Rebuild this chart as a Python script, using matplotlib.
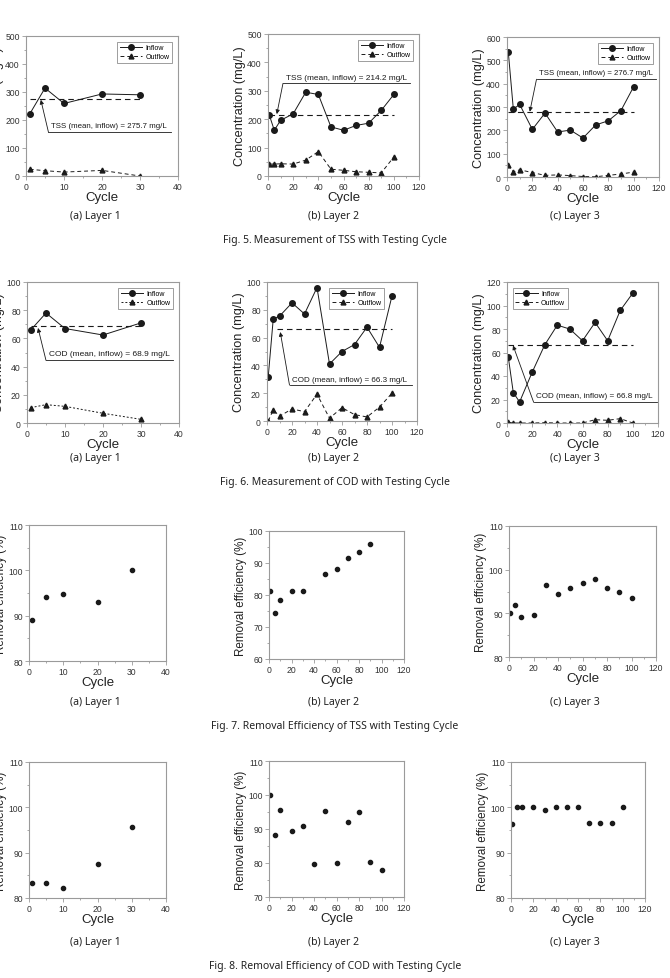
import matplotlib.pyplot as plt
from matplotlib.ticker import MultipleLocator

# ---- data ----
cyc_l1 = [1, 5, 10, 20, 30]
cyc_l2 = [1, 5, 10, 20, 30, 40, 50, 60, 70, 80, 90, 100]
cyc_l3 = [1, 5, 10, 20, 30, 40, 50, 60, 70, 80, 90, 100]

tss_in_l1 = [222, 314, 259, 293, 290]
tss_out_l1 = [24, 19, 14, 20, 0]
tss_in_l2 = [215, 161, 196, 219, 295, 287, 173, 161, 178, 186, 231, 287]
tss_out_l2 = [42, 42, 43, 42, 56, 86, 24, 20, 15, 13, 11, 67]
tss_in_l3 = [537, 291, 311, 204, 274, 193, 201, 167, 223, 241, 285, 387]
tss_out_l3 = [51, 21, 31, 19, 7, 9, 6, 2, 1, 7, 13, 21]
tss_mean = [275.7, 214.2, 276.7]

cod_in_l1 = [66, 78, 67, 62.4, 71]
cod_out_l1 = [10.9, 13, 11.8, 6.9, 2.6]
cod_in_l2 = [32, 73.5, 75.4, 85, 77, 96, 41, 50, 55, 67.5, 53, 90]
cod_out_l2 = [0, 8, 3.4, 8.7, 6.7, 19.3, 2, 9.6, 4.6, 2.9, 10, 20]
cod_in_l3 = [56.3, 25.9, 17.9, 43.2, 66.5, 83.3, 79.9, 70, 85.6, 70, 95.8, 110.6]
cod_out_l3 = [0.6, 0, 0, 0, 0.3, 0, 0, 0, 2.8, 2.3, 3.7, 0]
cod_mean = [68.9, 66.3, 66.8]

eff_tss_cyc_l2 = [1, 5, 10, 20, 30, 50, 60, 70, 80, 90]
eff_tss_l1 = [89.0, 94.1, 94.7, 93.1, 100.0]
eff_tss_l2 = [81.3, 74.4, 78.3, 81.2, 81.2, 86.7, 88.1, 91.6, 93.4, 95.9]
eff_tss_l3 = [90.1, 91.8, 89.1, 89.7, 96.5, 94.5, 95.8, 97.0, 97.9, 95.8, 94.9, 93.5]

eff_cod_l1 = [83.4, 83.4, 82.1, 87.4, 95.6]
eff_cod_l2 = [100, 88.2, 95.5, 89.5, 91.0, 79.7, 95.2, 80.0, 92.1, 95.0, 80.2, 77.8]
eff_cod_l3 = [96.3, 100, 100, 100, 99.5, 100, 100, 100, 96.5, 96.5, 96.5, 100]

layer_labels = ['(a) Layer 1', '(b) Layer 2', '(c) Layer 3']
captions = [('Fig. 5.', ' Measurement of TSS with Testing Cycle'),
            ('Fig. 6.', ' Measurement of COD with Testing Cycle'),
            ('Fig. 7.', ' Removal Efficiency of TSS with Testing Cycle'),
            ('Fig. 8.', ' Removal Efficiency of COD with Testing Cycle')]

W, H = 670, 979
fig = plt.figure(figsize=(W / 100, H / 100), dpi=100)
plt.rcParams['font.family'] = ['Liberation Sans', 'DejaVu Sans']
renderer = fig.canvas.get_renderer()

FRAME = '#9a9a9a'
INK = '#1a1a1a'
CAPFONT = ['Noto Sans', 'DejaVu Sans']


def px_axes(l, t, r, b):
    return fig.add_axes([l / W, 1 - b / H, (r - l) / W, (b - t) / H])


def style(ax, xmax, ymin, ymax, ymaj, ylabel, ylsize):
    ax.set_xlim(0, xmax)
    ax.set_ylim(ymin, ymax)
    ax.xaxis.set_major_locator(MultipleLocator(10 if xmax == 40 else 20))
    ax.xaxis.set_minor_locator(MultipleLocator(5 if xmax == 40 else 10))
    ax.yaxis.set_major_locator(MultipleLocator(ymaj))
    ax.yaxis.set_minor_locator(MultipleLocator(ymaj / 2))
    for s in ax.spines.values():
        s.set_color(FRAME)
        s.set_linewidth(0.8)
    ax.tick_params(which='both', direction='out', colors=FRAME, labelcolor='#333333',
                   labelsize=6.2, width=0.6, pad=1.5)
    ax.tick_params(which='major', length=3)
    ax.tick_params(which='minor', length=1.5)
    ax.set_xlabel('Cycle', fontsize=9.5, labelpad=0, color='#222222')
    ax.set_ylabel(ylabel, fontsize=ylsize, labelpad=1, color='#222222')


def conc_panel(ax, x, y_in, y_out, mean, mean_x0, label, tip, corner, uend, ty, legloc,
               out_dash=(4, 3)):
    ax.plot(x, y_in, '-o', color=INK, lw=0.7, ms=4, label='Inflow')
    ax.plot(x, y_out, '--^', color=INK, lw=0.7, ms=3.5, dashes=out_dash, label='Outflow')
    ax.plot([mean_x0, x[-1]], [mean, mean], '--', color=INK, lw=0.8, dashes=(5, 3.5))
    ax.annotate('', xy=tip, xytext=corner,
                arrowprops=dict(arrowstyle='-|>', lw=0.6, color=INK, mutation_scale=6,
                                shrinkA=0, shrinkB=0))
    ax.plot([corner[0], uend], [corner[1], corner[1]], '-', color=INK, lw=0.6)
    span = uend - corner[0]
    t = ax.text(corner[0] + span * 0.02, ty, label, fontsize=8,
                family=['Liberation Sans', 'DejaVu Sans'],
                va='center', ha='left', color=INK)
    # fit the callout text to the length of its underline
    p0 = ax.transData.transform((corner[0], 0))[0]
    p1 = ax.transData.transform((uend, 0))[0]
    w = t.get_window_extent(renderer).width
    t.set_fontsize(min(7.5, 8 * (p1 - p0) * 0.95 / w))
    kw = dict(fontsize=5, frameon=True, fancybox=False, edgecolor='#555555',
              handlelength=3.2, borderpad=0.4, labelspacing=0.3, handletextpad=0.5,
              borderaxespad=0.8)
    if isinstance(legloc, tuple):
        leg = ax.legend(loc='upper right', bbox_to_anchor=legloc, **kw)
    else:
        leg = ax.legend(loc=legloc, **kw)
    leg.get_frame().set_linewidth(0.5)


def scatter_panel(ax, x, y):
    ax.plot(x, y, 'o', color=INK, ms=3, ls='none')


# ---- Fig. 5: TSS ----
ax = px_axes(26, 37, 178, 177)
style(ax, 40, 0, 500, 100, 'Concentration (mg/L)', 9.2)
conc_panel(ax, cyc_l1, tss_in_l1, tss_out_l1, tss_mean[0], 1,
           'TSS (mean, inflow) = %.1f mg/L' % tss_mean[0],
           (3.9, 272), (5.9, 157), 38.1, 181, 'upper right')

ax = px_axes(268, 35, 419, 177)
style(ax, 120, 0, 500, 100, 'Concentration (mg/L)', 9.2)
conc_panel(ax, cyc_l2, tss_in_l2, tss_out_l2, tss_mean[1], 1,
           'TSS (mean, inflow) = %.1f mg/L' % tss_mean[1],
           (7.0, 218), (11.9, 326), 112.9, 347, 'upper right')

ax = px_axes(507, 38, 659, 178)
style(ax, 120, 0, 600, 100, 'Concentration (mg/L)', 9.2)
conc_panel(ax, cyc_l3, tss_in_l3, tss_out_l3, tss_mean[2], 1,
           'TSS (mean, inflow) = %.1f mg/L' % tss_mean[2],
           (18, 280), (23.3, 419), 117.6, 447, 'upper right')

# ---- Fig. 6: COD ----
ax = px_axes(27, 283, 179, 424)
style(ax, 40, 0, 100, 20, 'Concentration (mg/L)', 9.2)
conc_panel(ax, cyc_l1, cod_in_l1, cod_out_l1, cod_mean[0], 1,
           'COD (mean, inflow) = %.1f mg/L' % cod_mean[0],
           (2.9, 67.4), (5.0, 44.4), 38.4, 49.6, 'upper right', out_dash=(2, 2))

ax = px_axes(267, 283, 417, 422)
style(ax, 120, 0, 100, 20, 'Concentration (mg/L)', 9.2)
conc_panel(ax, cyc_l2, cod_in_l2, cod_out_l2, cod_mean[1], 8,
           'COD (mean, inflow) = %.1f mg/L' % cod_mean[1],
           (10.6, 64), (18, 25.8), 116, 30.1, (0.82, 1.0))

ax = px_axes(507, 283, 658, 424)
style(ax, 120, 0, 120, 20, 'Concentration (mg/L)', 9.2)
conc_panel(ax, cyc_l3, cod_in_l3, cod_out_l3, cod_mean[2], 1,
           'COD (mean, inflow) = %.1f mg/L' % cod_mean[2],
           (4.8, 66), (21.2, 17.6), 119.5, 23.3, 'upper left')

# ---- Fig. 7: removal efficiency TSS ----
ax = px_axes(29, 526, 166, 662)
style(ax, 40, 80, 110, 10, 'Removal efficiency (%)', 8.4)
scatter_panel(ax, cyc_l1, eff_tss_l1)

ax = px_axes(269, 532, 404, 660)
style(ax, 120, 60, 100, 10, 'Removal efficiency (%)', 8.4)
scatter_panel(ax, eff_tss_cyc_l2, eff_tss_l2)

ax = px_axes(509, 527, 656, 658)
style(ax, 120, 80, 110, 10, 'Removal efficiency (%)', 8.4)
scatter_panel(ax, cyc_l3, eff_tss_l3)

# ---- Fig. 8: removal efficiency COD ----
ax = px_axes(29, 763, 166, 899)
style(ax, 40, 80, 110, 10, 'Removal efficiency (%)', 8.4)
scatter_panel(ax, cyc_l1, eff_cod_l1)

ax = px_axes(269, 762, 404, 898)
style(ax, 120, 70, 110, 10, 'Removal efficiency (%)', 8.4)
scatter_panel(ax, cyc_l2, eff_cod_l2)

ax = px_axes(511, 763, 645, 899)
style(ax, 120, 80, 110, 10, 'Removal efficiency (%)', 8.4)
scatter_panel(ax, cyc_l3, eff_cod_l3)

# ---- sub labels and captions ----
sub_y = [217, 458, 703, 943]
cap_y = [241, 482, 727, 967]
sub_x = [95, 333, 575]
for row in range(4):
    for col in range(3):
        fig.text(sub_x[col] / W, 1 - sub_y[row] / H, layer_labels[col], fontsize=7.5,
                 family=CAPFONT, ha='center', va='center', color='#222222')
    bold, rest = captions[row]
    t1 = fig.text(0, 1 - cap_y[row] / H, bold, fontsize=7.5, family=CAPFONT,
                  fontweight='bold', va='center', color='#222222')
    t2 = fig.text(0, 1 - cap_y[row] / H, rest, fontsize=7.5, family=CAPFONT,
                  va='center', color='#222222')
    w1 = t1.get_window_extent(renderer).width
    w2 = t2.get_window_extent(renderer).width
    x0 = 335 - (w1 + w2) / 2
    t1.set_x(x0 / W)
    t2.set_x((x0 + w1) / W)

fig.savefig('out.png', dpi=100, facecolor='white')
